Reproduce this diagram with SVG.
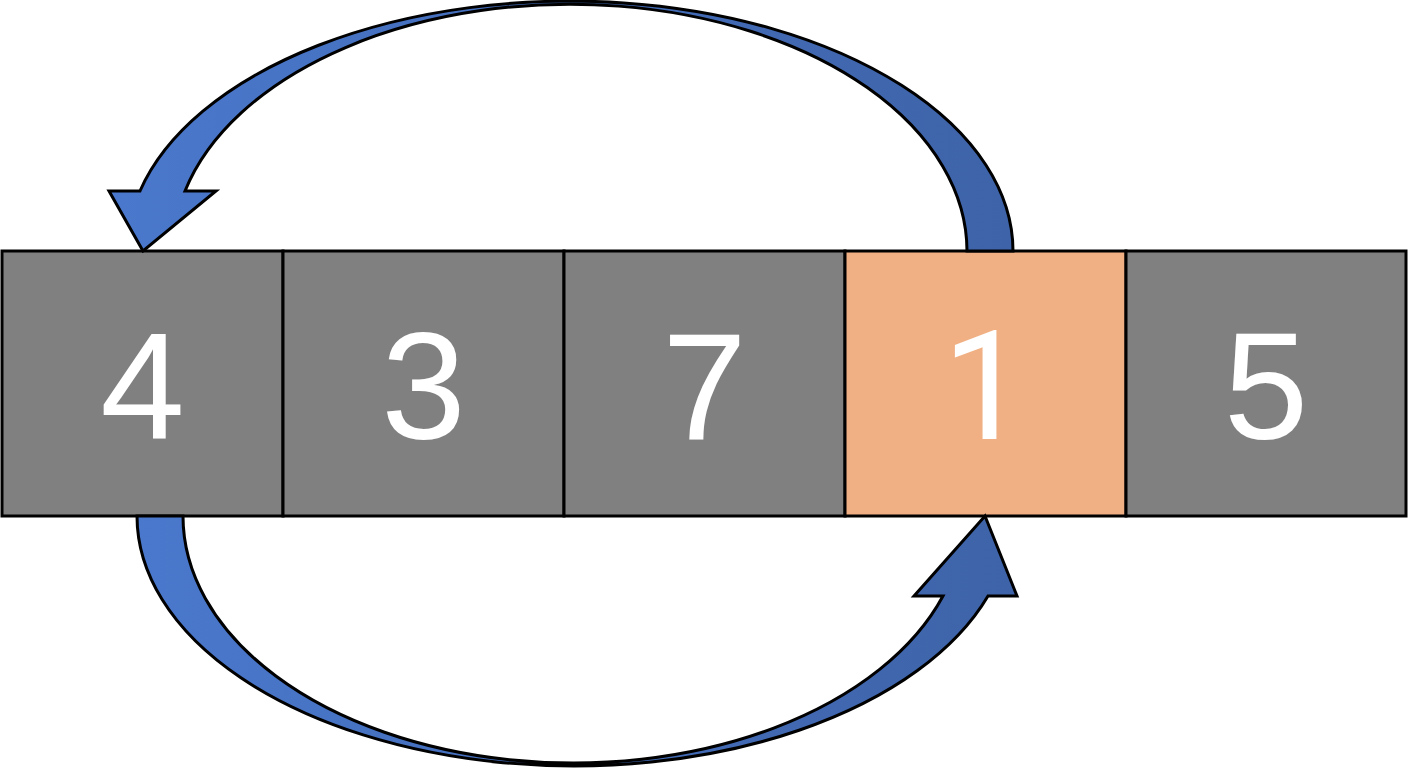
<svg xmlns="http://www.w3.org/2000/svg" width="1408" height="768" viewBox="0 0 1408 768">
<style>
.box{stroke:#000;stroke-width:3}
.gray{fill:#808080}
.hl{fill:#F0B084}
.num{font-family:"Liberation Sans",Arial,sans-serif;font-size:152px;fill:#fff;text-anchor:middle}
.one{font-family:Roboto,"Liberation Sans",sans-serif}
.arr{fill:#4472C4;stroke:#000;stroke-width:3;stroke-linejoin:miter}
</style>
<defs>
<linearGradient id="g" x1="0" y1="0" x2="1" y2="0">
<stop offset="0" stop-color="#4A78CC"/>
<stop offset="1" stop-color="#3E63A8"/>
</linearGradient>
</defs>
<rect width="1408" height="768" fill="#fff"/>
<g id="node-0"><rect class="box gray" x="2" y="251" width="281" height="265"/><text class="num" x="142.5" y="439">4</text></g>
<g id="node-1"><rect class="box gray" x="283" y="251" width="281" height="265"/><text class="num" x="423.5" y="439">3</text></g>
<g id="node-2"><rect class="box gray" x="564" y="251" width="281" height="265"/><text class="num" x="704.5" y="439">7</text></g>
<g id="node-3"><rect class="box hl" x="845" y="251" width="281" height="265"/><text class="num one" x="985" y="439">1</text></g>
<g id="node-4"><rect class="box gray" x="1126" y="251" width="280" height="265"/><text class="num" x="1266" y="439">5</text></g>
<g id="connectors">
<path class="arr" style="fill:url(#g)" d="M 1013 251 A 443 250 0 0 0 140 191 L 109 191 L 143 251 L 216 191 L 185 191 A 397 247 0 0 1 967 251 Z"/>
<path class="arr" style="fill:url(#g)" d="M 137 516 A 437 250 0 0 0 988 596 L 1017 596 L 985 516 L 914 596 L 943 596 A 390.5 247 0 0 1 183 516 Z"/>
</g>
</svg>
